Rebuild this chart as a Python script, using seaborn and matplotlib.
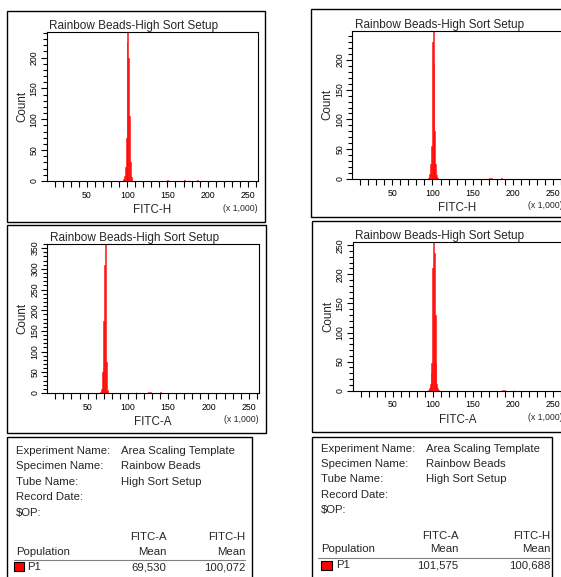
import numpy as np
import pandas as pd
import matplotlib
matplotlib.use('Agg')
import matplotlib.pyplot as plt
import seaborn as sns
from matplotlib.patches import Rectangle
from matplotlib.lines import Line2D
from matplotlib.ticker import FixedLocator, MultipleLocator

sns.set_style('white')
plt.rcParams['font.family'] = ['Liberation Sans', 'DejaVu Sans']

# histogram channels (x 1,000) and event counts
h1_x = [95, 96, 97, 98, 99, 100, 101, 102, 103, 104, 105, 106, 150, 172, 176, 187]
h1_n = [1, 3, 8, 22, 70, 225, 260, 200, 105, 30, 6, 2, 2, 2, 2, 2]

h2_x = [95, 96, 97, 98, 99, 100, 101, 102, 103, 104, 105, 106, 172, 174, 186]
h2_n = [1, 2, 8, 25, 55, 230, 265, 195, 80, 25, 6, 2, 2, 2, 2]

h3_x = [66, 67, 68, 69, 70, 71, 72, 73, 74, 75, 110, 125, 129, 141]
h3_n = [2, 10, 50, 55, 175, 310, 380, 75, 8, 2, 2, 2, 2, 2]

h4_x = [95, 96, 97, 98, 99, 100, 101, 102, 103, 104, 105, 106, 107, 187, 189, 201]
h4_n = [2, 4, 12, 30, 48, 210, 265, 237, 130, 47, 12, 4, 1, 2, 2, 1]

plot_title = 'Rainbow Beads-High Sort Setup'
info_keys = ['Experiment Name:', 'Specimen Name:', 'Tube Name:', 'Record Date:', r'\$OP:']
info_vals = ['Area Scaling Template', 'Rainbow Beads', 'High Sort Setup', '', '']
mean_a = ['69,530', '101,575']
mean_h = ['100,072', '100,688']

W, H = 561, 577
fig = plt.figure(figsize=(W / 100, H / 100), dpi=100)
fig.patch.set_facecolor('white')

def fx(p):
    return p / W

def fy(p):
    return 1 - p / H

def box(x0, y0, x1, y1, **kw):
    fig.add_artist(Rectangle((fx(x0), fy(y1)), fx(x1) - fx(x0), fy(y0) - fy(y1),
                             transform=fig.transFigure, **kw))

def panel(l, t, r, b, xs, ns, ymax, xlab):
    ax = fig.add_axes([fx(l), fy(b), fx(r) - fx(l), fy(t) - fy(b)])
    df = pd.DataFrame({'ch': xs, 'n': ns})
    sns.histplot(data=df, x='ch', weights='n', binwidth=1.024, binrange=(0, 262.144),
                 element='bars', fill=True, color='#ff0000', alpha=0.7,
                 edgecolor='#ff0000', linewidth=0.4, ax=ax)
    # drop empty channels so no line runs along the baseline
    for p in list(ax.patches):
        if p.get_height() == 0:
            p.remove()
    ax.set_xlim(0, 262.144)
    ax.set_ylim(0, ymax)
    ax.set_facecolor('white')
    for s in ax.spines.values():
        s.set_color('black')
        s.set_linewidth(0.8)
    ax.xaxis.set_major_locator(FixedLocator([50, 100, 150, 200, 250]))
    ax.xaxis.set_minor_locator(FixedLocator(np.arange(10, 261, 10)))
    ax.yaxis.set_major_locator(MultipleLocator(50))
    ax.yaxis.set_minor_locator(MultipleLocator(10))
    ax.tick_params(axis='x', which='both', direction='out', length=4, width=0.8,
                   colors='black', labelsize=6.3, pad=3, bottom=True)
    ax.tick_params(axis='y', which='major', direction='out', length=4.3, width=0.8,
                   colors='black', labelsize=6.3, pad=1.5, labelrotation=90, left=True)
    ax.tick_params(axis='y', which='minor', direction='out', length=2.8, width=0.8,
                   colors='black', left=True)
    for lab in ax.get_yticklabels():
        lab.set_va('center')
    ax.set_xlabel(xlab, fontsize=8.4, va='center')
    ax.xaxis.set_label_coords(fx((l + r) / 2), fy(b + 29), transform=fig.transFigure)
    ax.set_ylabel('Count', fontsize=8.4, va='center')
    ax.yaxis.set_label_coords(fx(l - 24.5), fy((t + b) / 2), transform=fig.transFigure)
    ax.set_title(plot_title, loc='left', fontsize=8.5, pad=2.3, x=0.012)
    fig.text(fx(r), fy(b + 27), '(x 1,000)', fontsize=6.3, ha='right', va='center')
    return ax

# panel frames
box(7, 11, 265, 221.5, fill=False, edgecolor='black', linewidth=1.0)
box(311, 9.5, 575, 217, fill=False, edgecolor='black', linewidth=1.0)
box(7, 225, 265.5, 433, fill=False, edgecolor='black', linewidth=1.0)
box(312, 220.5, 575, 432, fill=False, edgecolor='black', linewidth=1.0)

panel(46.7, 32.3, 257.7, 181, h1_x, h1_n, 241, 'FITC-H')
panel(352.3, 30.7, 562.5, 179, h2_x, h2_n, 249, 'FITC-H')
panel(47.3, 244, 258.5, 393, h3_x, h3_n, 360, 'FITC-A')
panel(352.7, 242.3, 562.8, 390.7, h4_x, h4_n, 255, 'FITC-A')

# statistics boxes
def stats(x0, x1, xk, xv, xa, xh, ys, yh, ym, yline, yrow, sq, i):
    box(x0, 437, x1, 600, fill=False, edgecolor='black', linewidth=1.0)
    for k, v, y in zip(info_keys, info_vals, ys):
        fig.text(fx(xk), fy(y), k, fontsize=8.2, va='center')
        fig.text(fx(xv), fy(y), v, fontsize=8.2, va='center')
    fig.text(fx(xa), fy(yh), 'FITC-A', fontsize=8.2, ha='right', va='center')
    fig.text(fx(xh), fy(yh), 'FITC-H', fontsize=8.2, ha='right', va='center')
    fig.text(fx(xk), fy(ym), 'Population', fontsize=8.2, va='center')
    fig.text(fx(xa), fy(ym), 'Mean', fontsize=8.2, ha='right', va='center')
    fig.text(fx(xh), fy(ym), 'Mean', fontsize=8.2, ha='right', va='center')
    fig.add_artist(Line2D([fx(xk - 2.5), fx(xh)], [fy(yline), fy(yline)],
                          transform=fig.transFigure, color='#808080', linewidth=0.8))
    box(sq[0], sq[1], sq[2], sq[3], facecolor='#ff0000', edgecolor='black', linewidth=0.8)
    fig.text(fx(sq[2] + 3.5), fy(yrow), 'P1', fontsize=8.2, va='center')
    fig.text(fx(xa), fy(yrow), mean_a[i], fontsize=8.2, ha='right', va='center')
    fig.text(fx(xh), fy(yrow), mean_h[i], fontsize=8.2, ha='right', va='center')

stats(7, 251.5, 16, 120.7, 166.7, 245, [451, 466, 482, 497, 513], 537, 552, 560, 567,
      (14.3, 562.3, 24, 571), 0)
stats(312, 552, 320.7, 426, 458.5, 550.3, [449, 464, 479.5, 495, 510], 536, 549.5, 558, 565.5,
      (320.7, 561, 332.3, 570), 1)

fig.savefig('out.png', dpi=100, facecolor='white')
